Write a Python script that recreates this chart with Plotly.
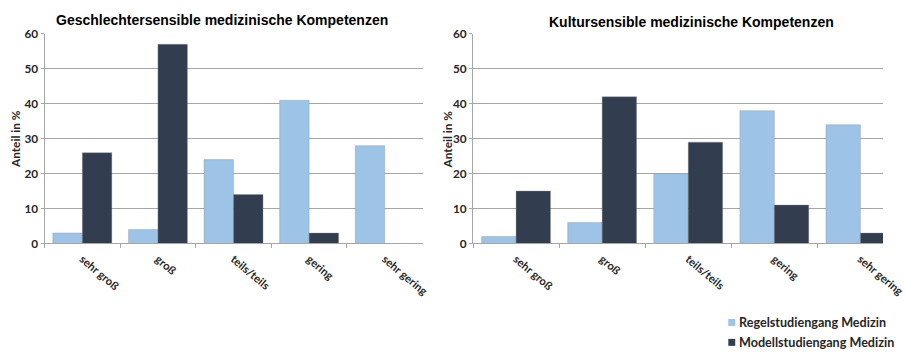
import plotly.graph_objects as go
from plotly.subplots import make_subplots

categories = ["sehr groß", "groß", "teils/teils", "gering", "sehr gering"]

gender_regel = [3, 4, 24, 41, 28]
gender_modell = [26, 57, 14, 3, 0]

culture_regel = [2, 6, 20, 38, 34]
culture_modell = [15, 42, 29, 11, 3]

y_ticks = [0, 10, 20, 30, 40, 50, 60]

series_names = ["Regelstudiengang Medizin", "Modellstudiengang Medizin"]
colors = ["#9DC3E6", "#323E50"]

W, H = 905, 356
SX, SY = 0.986, 0.964


# layout positions are given in screen pixels and converted to paper fractions
def px_x(p):
    return ((p + 1) / SX) / W


def px_y(p):
    return 1 - ((p - 7) / SY) / H


fig = make_subplots(rows=1, cols=2)

panels = [
    (1, gender_regel, gender_modell, 0.39),
    (2, culture_regel, culture_modell, 0.40),
]
for col, regel, modell, bw in panels:
    for name, vals, color, off in zip(series_names, [regel, modell], colors, [-bw, 0.0]):
        fig.add_trace(
            go.Bar(
                x=categories, y=vals, name=name, showlegend=False,
                legendgroup=name, width=bw, offset=off,
                marker=dict(color=color, line=dict(color="rgba(140,140,140,0.6)", width=0.6)),
                hoverinfo="x+y",
            ),
            row=1, col=col,
        )

label_font = dict(family="Lato, Carlito, sans-serif", size=11.2, color="#262626", weight="bold")
grid = "#A6A6A6"
y_dom = [px_y(244), px_y(33)]

common_x = dict(
    type="category", showline=True, linecolor=grid, linewidth=1,
    ticks="outside", tickson="boundaries", ticklen=4, tickcolor=grid,
    tickangle=40, tickfont=label_font, showgrid=False, ticklabelstandoff=4,
)
common_y = dict(
    range=[0, 60], tickvals=y_ticks, showline=True, linecolor=grid, linewidth=1,
    ticks="outside", ticklen=3, tickcolor=grid, showgrid=True, gridcolor=grid,
    gridwidth=1, tickfont=dict(label_font, size=11.8), zeroline=False,
    domain=y_dom,
)

# right panel runs past the page edge, so its category range is cut short
right_start = px_x(477)
units_visible = (1.0 - right_start) * W / (87 / SX)

fig.update_xaxes(common_x, domain=[px_x(44), px_x(426)], range=[-0.5, 4.5], row=1, col=1)
fig.update_xaxes(common_x, domain=[right_start, 1.0], range=[-0.5, -0.5 + units_visible], row=1, col=2)
fig.update_yaxes(common_y, row=1, col=1)
fig.update_yaxes(common_y, row=1, col=2)

# panel titles
title_font = dict(family="Liberation Sans, Arial, sans-serif", size=14, color="#000000", weight="bold")
for text, cx, cy in [
    ("Geschlechtersensible medizinische Kompetenzen", 223, 19),
    ("Kultursensible medizinische Kompetenzen", 698, 21),
]:
    fig.add_annotation(text=text, x=px_x(cx), y=px_y(cy), xref="paper", yref="paper",
                       showarrow=False, font=title_font, xanchor="center", yanchor="middle")

# y-axis titles
for cx in [14, 451]:
    fig.add_annotation(text="Anteil in %", x=px_x(cx), y=px_y(139), xref="paper", yref="paper",
                       showarrow=False, textangle=-90, font=dict(label_font, size=11.8),
                       xanchor="center", yanchor="middle")

# legend: colour keys with series names
legend_font = dict(family="Lato, Carlito, sans-serif", size=12.6, color="#262626", weight="bold")
for name, color, cy in zip(series_names, colors, [323.5, 343.5]):
    fig.add_shape(type="rect", xref="paper", yref="paper",
                  x0=px_x(735), x1=px_x(742), y0=px_y(cy + 3.5), y1=px_y(cy - 3.5),
                  fillcolor=color, line=dict(width=0))
    fig.add_annotation(text=name, x=px_x(743.5), y=px_y(cy), xref="paper", yref="paper",
                       showarrow=False, font=legend_font, xanchor="left", yanchor="middle")

fig.update_layout(
    width=W, height=H,
    margin=dict(l=0, r=0, t=0, b=0),
    paper_bgcolor="white", plot_bgcolor="white",
    barmode="overlay",
    showlegend=False,
)

fig.write_html("out.html")
